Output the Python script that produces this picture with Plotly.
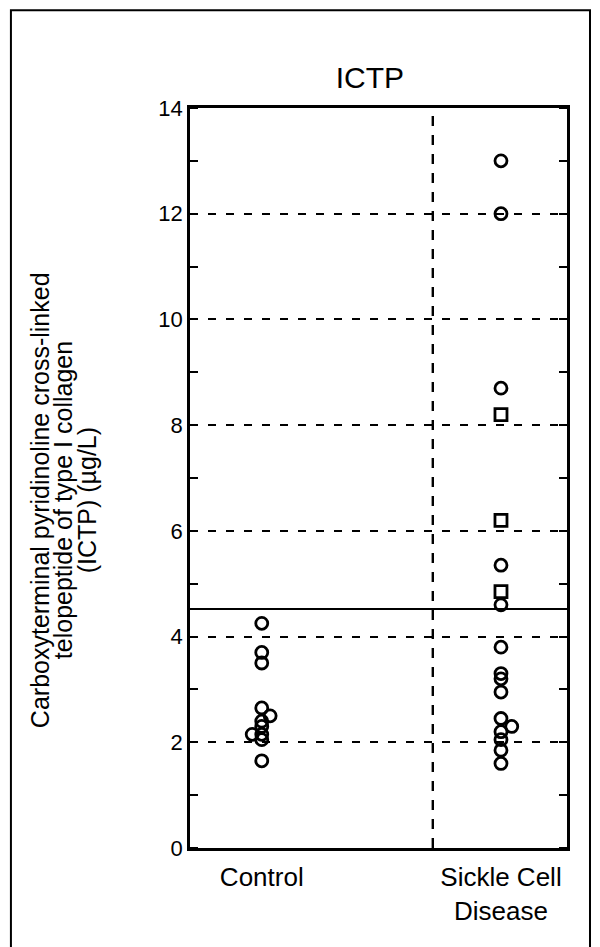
import plotly.graph_objects as go

# ---- data ----
categories = ["Control", "Sickle Cell<br>Disease"]
cat_pos = [0, 1]

control_vals = [4.25, 3.7, 3.5, 2.65, 2.5, 2.4, 2.3, 2.15, 2.15, 2.05, 1.65]
control_jitter = [0, 0, 0, 0, 0.035, 0, 0, -0.04, 0, 0, 0]

scd_circle_vals = [13.0, 12.0, 8.7, 5.35, 4.6, 3.8, 3.3, 3.2, 2.95, 2.45, 2.3, 2.2, 2.05, 1.85, 1.6]
scd_circle_jitter = [0, 0, 0, 0, 0, 0, 0, 0, 0, 0, 0.045, 0, 0, 0, 0]

scd_square_vals = [8.2, 6.2, 4.85]
scd_square_jitter = [0, 0, 0]

y_ticks = [0, 2, 4, 6, 8, 10, 12, 14]
y_title_lines = ["Carboxyterminal pyridinoline cross-linked",
                 "telopeptide of type I collagen",
                 "(ICTP) (µg/L)"]
threshold = 4.52
separator_x = 0.715

FONT = "Liberation Sans, Arial, Helvetica, sans-serif"

fig = go.Figure()

marker_circle = dict(symbol="circle-open", size=12, color="black", line=dict(width=2.8, color="black"))
marker_square = dict(symbol="square-open", size=12, color="black", line=dict(width=2.8, color="black"))

fig.add_trace(go.Scatter(
    x=[cat_pos[0] + j for j in control_jitter], y=control_vals,
    mode="markers", marker=marker_circle, showlegend=False))
fig.add_trace(go.Scatter(
    x=[cat_pos[1] + j for j in scd_circle_jitter], y=scd_circle_vals,
    mode="markers", marker=marker_circle, showlegend=False))
fig.add_trace(go.Scatter(
    x=[cat_pos[1] + j for j in scd_square_jitter], y=scd_square_vals,
    mode="markers", marker=marker_square, showlegend=False))

# separator and reference line
fig.add_vline(x=separator_x, line=dict(color="black", width=2.4, dash="10px,9px"), layer="below")
fig.add_hline(y=threshold, line=dict(color="black", width=2), layer="below")

# outer frame
fig.add_shape(type="rect", xref="paper", yref="paper",
              x0=-0.475, x1=1.061, y0=-0.135, y1=1.132,
              line=dict(color="black", width=2))

fig.update_layout(
    width=600, height=947,
    margin=dict(l=182, r=41, t=100, b=107),
    paper_bgcolor="white", plot_bgcolor="white",
    font=dict(family=FONT, color="black"),
    title=dict(text="ICTP", x=0.603, xanchor="center", y=0.927, yanchor="middle",
               font=dict(size=30, family=FONT, color="black")),
    xaxis=dict(range=[-0.30, 1.276], tickvals=cat_pos, ticktext=categories,
               showgrid=False, zeroline=False, showline=True, linecolor="black",
               linewidth=2.8, mirror=True, ticks="", ticklabelstandoff=4,
               tickfont=dict(size=26, family=FONT, color="black")),
    yaxis=dict(range=[0, 14], tickvals=y_ticks, showgrid=True, gridcolor="black",
               gridwidth=2.2, griddash="8px,10px", zeroline=False, showline=True,
               linecolor="black", linewidth=2.8, mirror="ticks", ticks="",
               ticklabelstandoff=0,
               minor=dict(dtick=1, ticks="inside", ticklen=8, tickwidth=2.2,
                          tickcolor="black", showgrid=False),
               tickfont=dict(size=22, family=FONT, color="black")),
)

line_x = [-0.398, -0.337, -0.273]
for txt, lx in zip(y_title_lines, line_x):
    fig.add_annotation(
        text=txt, xref="paper", yref="paper", x=lx, y=0.47, textangle=-90,
        showarrow=False, font=dict(size=25, family=FONT, color="black"),
        xanchor="center", yanchor="middle")

fig.write_html("out.html")
